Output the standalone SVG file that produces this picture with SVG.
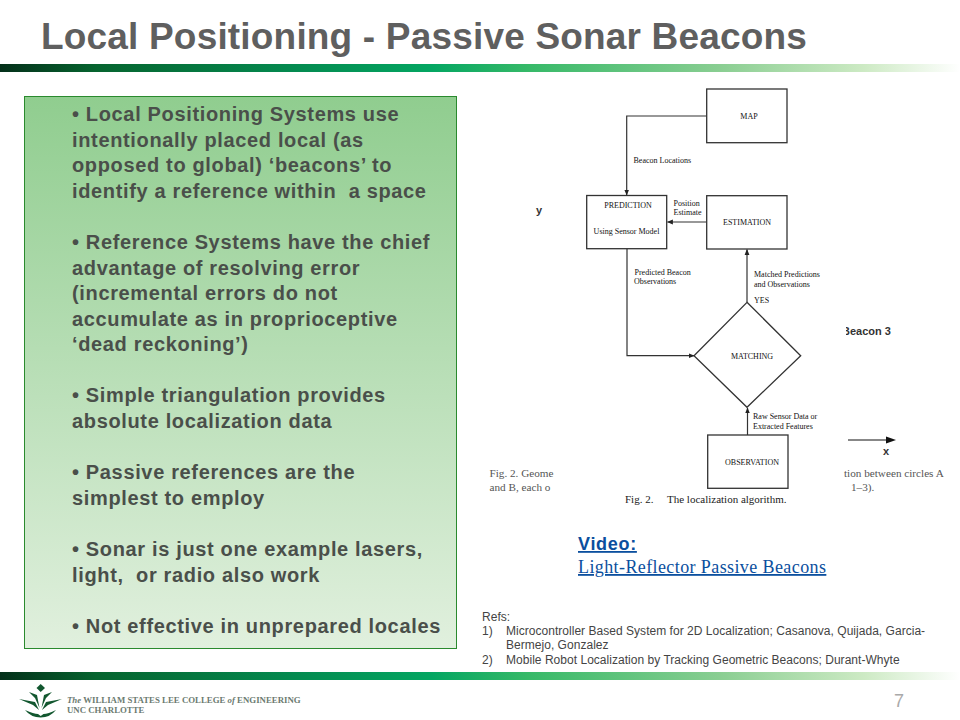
<svg xmlns="http://www.w3.org/2000/svg" width="960" height="720" viewBox="0 0 960 720">
<style>
text{font-family:"Liberation Sans",Arial,sans-serif}
.b{font-size:20px;font-weight:700;fill:#4a4f4a;letter-spacing:.65px}
.s{font-family:"Liberation Serif","Times New Roman",serif;fill:#111;font-size:8px}
.n{fill:#fff;stroke:#333;stroke-width:1.3}
.c{fill:none;stroke:#333;stroke-width:1.2}
.r{font-size:12px;fill:#444;letter-spacing:.03px}
.f{font-family:"Liberation Serif",serif;font-size:11.2px;fill:#555}
.a{font-size:11px;font-weight:700;fill:#333}
.cap{font-family:"Liberation Serif",serif;font-size:11px;fill:#222}
.lg{font-family:"Liberation Serif",serif;font-size:8.800px;font-weight:700;fill:#6b7a70}
</style>
<defs>
<linearGradient id="bar"><stop offset="0" stop-color="#04301a"/><stop offset=".1" stop-color="#06642f"/><stop offset=".3" stop-color="#04894f"/><stop offset=".45" stop-color="#04a662"/><stop offset=".55" stop-color="#36b968"/><stop offset=".75" stop-color="#8ace92"/><stop offset=".9" stop-color="#cdeac4"/><stop offset="1" stop-color="#fff"/></linearGradient>
<linearGradient id="box" x1="0" y1="0" x2="0" y2="1"><stop offset="0" stop-color="#90cd8f"/><stop offset="1" stop-color="#e1f0de"/></linearGradient>
<marker id="ah" markerWidth="5" markerHeight="5" refX="4.500" refY="2.500" orient="auto"><path d="M0 .5L5 2.500L0 4.500z" fill="#222"/></marker>
<clipPath id="bc"><rect x="846" y="320" width="60" height="20"/></clipPath>
</defs>
<rect width="960" height="720" fill="#fff"/>
<text x="41" y="49" font-size="37" font-weight="700" fill="#5f5f5f" letter-spacing=".18">Local Positioning - Passive Sonar Beacons</text>
<rect x="0" y="64" width="960" height="8" fill="url(#bar)"/>
<rect x="0" y="672" width="960" height="8" fill="url(#bar)"/>
<g id="text-panel">
<rect x="24.500" y="96.500" width="432" height="552" fill="url(#box)" stroke="#2a8a2e" stroke-width="1"/>
<text class="b" x="72" y="121">• Local Positioning Systems use</text>
<text class="b" x="72" y="146.500">intentionally placed local (as</text>
<text class="b" x="72" y="172">opposed to global) ‘beacons’ to</text>
<text class="b" x="72" y="197.500">identify a reference within&#160; a space</text>
<text class="b" x="72" y="249">• Reference Systems have the chief</text>
<text class="b" x="72" y="274.500">advantage of resolving error</text>
<text class="b" x="72" y="300">(incremental errors do not</text>
<text class="b" x="72" y="325.500">accumulate as in proprioceptive</text>
<text class="b" x="72" y="351">‘dead reckoning’)</text>
<text class="b" x="72" y="402">• Simple triangulation provides</text>
<text class="b" x="72" y="427.500">absolute localization data</text>
<text class="b" x="72" y="479">• Passive references are the</text>
<text class="b" x="72" y="504.500">simplest to employ</text>
<text class="b" x="72" y="556">• Sonar is just one example lasers,</text>
<text class="b" x="72" y="581.500">light,&#160; or radio also work</text>
<text class="b" x="72" y="633">• Not effective in unprepared locales</text>
</g>
<g id="connectors">
<path class="c" d="M706.700 116H626.700V195" marker-end="url(#ah)"/>
<path class="c" d="M706.700 222H667.500" marker-end="url(#ah)"/>
<path class="c" d="M747 302V249.500" marker-end="url(#ah)"/>
<path class="c" d="M627 249V355.700H694" marker-end="url(#ah)"/>
<path class="c" d="M747.500 435V408" marker-end="url(#ah)"/>
</g>
<g id="map"><rect class="n" x="706.700" y="89" width="80.300" height="53.700"/><text class="s" x="749" y="119" text-anchor="middle">MAP</text></g>
<g id="prediction"><rect class="n" x="586.700" y="195.500" width="80" height="53.200"/><text class="s" x="628" y="208" text-anchor="middle">PREDICTION</text><text class="s" x="626.500" y="233.500" text-anchor="middle">Using Sensor Model</text></g>
<g id="estimation"><rect class="n" x="706.700" y="195.700" width="80.300" height="53.300"/><text class="s" x="747" y="224.500" text-anchor="middle">ESTIMATION</text></g>
<g id="matching"><path class="n" d="M747 302.300L800.700 355.700L747 407.300L694 355.700z"/><text class="s" x="752" y="359" text-anchor="middle">MATCHING</text></g>
<g id="observation"><rect class="n" x="707.700" y="435" width="80.300" height="53.300"/><text class="s" x="752" y="465" text-anchor="middle">OBSERVATION</text></g>
<g id="labels">
<text class="s" x="633.500" y="163">Beacon Locations</text>
<text class="s" x="673.500" y="206">Position</text>
<text class="s" x="673.500" y="215">Estimate</text>
<text class="s" x="634.500" y="275">Predicted Beacon</text>
<text class="s" x="634" y="284">Observations</text>
<text class="s" x="754" y="276.500">Matched Predictions</text>
<text class="s" x="754" y="286.500">and Observations</text>
<text class="s" x="754" y="303">YES</text>
<text class="s" x="753" y="419">Raw Sensor Data or</text>
<text class="s" x="753" y="428.500">Extracted Features</text>
<text class="cap" x="625" y="503">Fig. 2.</text>
<text class="cap" x="667" y="503">The localization algorithm.</text>
<text class="a" x="536" y="214">y</text>
<text class="a" x="842" y="335" clip-path="url(#bc)">Beacon 3</text>
<text class="a" x="883" y="455">x</text>
<text class="f" x="489.500" y="477">Fig. 2. Geome</text>
<text class="f" x="489.500" y="491">and B, each o</text>
<text class="f" x="844" y="477">tion between circles A</text>
<text class="f" x="851" y="491">1–3).</text>
</g>
<path d="M848 440H889" fill="none" stroke="#111" stroke-width="1"/><path d="M886 436.500L896 440L886 443.500z" fill="#111"/>
<g id="video-link">
<text x="578" y="550" font-size="18" font-weight="700" letter-spacing=".7" fill="#0b4f9e" text-decoration="underline">Video:</text>
<text x="578" y="573" font-size="18" letter-spacing=".4" fill="#0b4f9e" text-decoration="underline" style="font-family:'Liberation Serif',serif">Light-Reflector Passive Beacons</text>
</g>
<g id="refs">
<text class="r" x="482" y="620.500">Refs:</text>
<text class="r" x="482" y="635">1)</text><text class="r" x="506" y="635">Microcontroller Based System for 2D Localization; Casanova, Quijada, Garcia-</text>
<text class="r" x="506" y="649">Bermejo, Gonzalez</text>
<text class="r" x="482" y="663.500">2)</text><text class="r" x="506" y="663.500">Mobile Robot Localization by Tracking Geometric Beacons; Durant-Whyte</text>
</g>
<text x="899" y="707" font-size="18" fill="#a9a9a9" text-anchor="middle">7</text>
<g id="logo">
<path d="M40.700 684L45 688L40.700 692L36.500 688z" fill="#12572f"/>
<path d="M19 699L35 702L39 710L33 705zM62 699L46 702L42 710L48 705zM29 692L37 695L39.500 708L35 698zM52 692L44 695L41.500 708L46 698zM25 710Q34 714 38 714L40.700 716L43.500 714Q48 714 56 710Q50 717.500 40.700 717.500Q31 717.500 25 710z" fill="#12572f"/>
<text class="lg" x="67" y="702.500"><tspan font-style="italic">The</tspan> WILLIAM STATES LEE COLLEGE <tspan font-style="italic">of</tspan> ENGINEERING</text>
<text class="lg" x="67" y="712.500">UNC CHARLOTTE</text>
</g>
</svg>
